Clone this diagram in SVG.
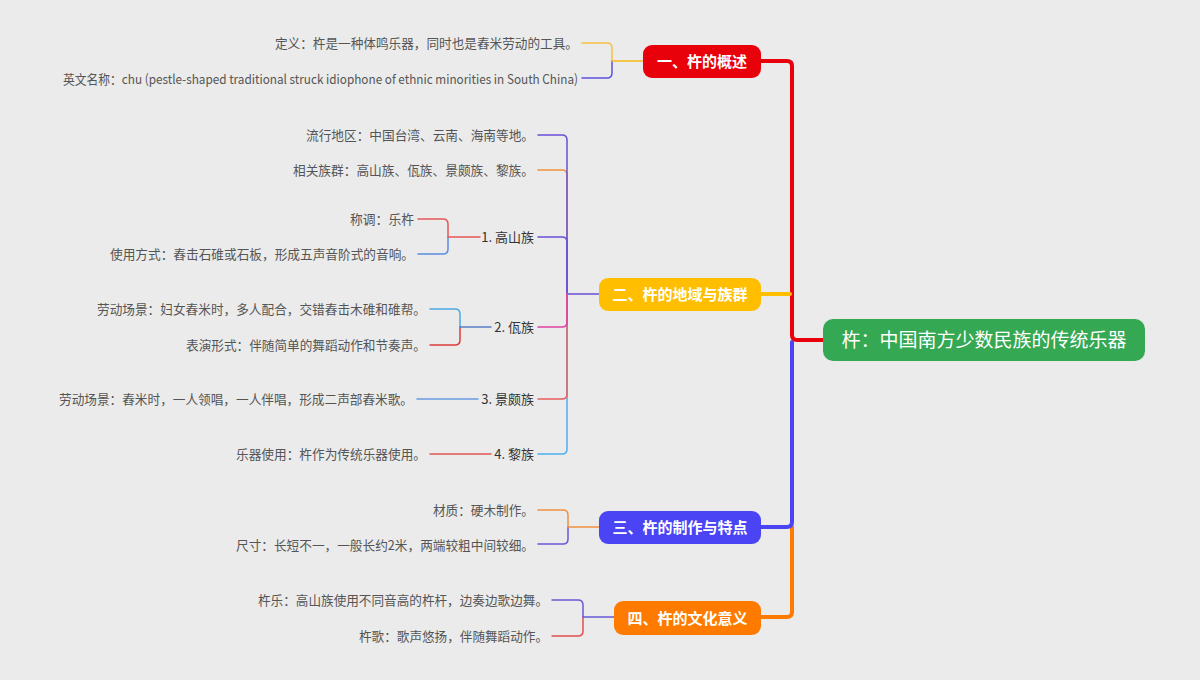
<svg xmlns="http://www.w3.org/2000/svg" width="1200" height="680" viewBox="0 0 1200 680">
<style>
.leaf{font-family:"Noto Sans CJK SC","Noto Sans",sans-serif;font-size:13px;fill:#555;text-anchor:end}
.sub{font-family:"Noto Sans CJK SC","Noto Sans",sans-serif;font-size:13px;fill:#333;text-anchor:end}
.nt{font-family:"Noto Sans CJK SC","Noto Sans",sans-serif;font-size:15px;font-weight:bold;fill:#fff;text-anchor:middle}
.rt{font-family:"Noto Sans CJK SC","Noto Sans",sans-serif;font-size:19px;fill:#fff;text-anchor:middle}
.c{fill:none;stroke-width:1.5;stroke-linecap:round}
.m{fill:none;stroke-width:4;stroke-linecap:round}
</style>
<rect width="1200" height="680" fill="#ebebeb"/>
<g id="connectors">
  <path class="m" stroke="#ff7b00" d="M792,527 V612 Q792,617 787,617 H761"/>
  <path class="m" stroke="#4a44f5" d="M792,342 V522 Q792,527 787,527 H761"/>
  <path class="m" stroke="#e8000b" d="M823,340 H797 Q792,340 792,335 V66 Q792,61 787,61 H761"/>
  <path class="m" stroke="#ffbf00" d="M790,294 H761"/>
  <path class="c" stroke="#f5c242" d="M643,61 H612 V48 Q612,43 607,43 H582"/>
  <path class="c" stroke="#5a52dc" d="M612,61 V73 Q612,78 607,78 H582"/>
  <path class="c" stroke="#f5c242" d="M643,61 H612"/>
  <path class="c" stroke="#f0943c" d="M567,294 V175 Q567,170 562,170 H538"/>
  <path class="c" stroke="#6a4fd8" d="M567,294 V242 Q567,237 562,237 H538"/>
  <path class="c" stroke="#6a4fd8" d="M599,294 H567 V140 Q567,135 562,135 H538"/>
  <path class="c" stroke="#4db0f0" d="M567,294 V449 Q567,454 562,454 H538"/>
  <path class="c" stroke="#e86060" d="M567,294 V394 Q567,399 562,399 H538"/>
  <path class="c" stroke="#e040a0" d="M567,294 V322 Q567,327 562,327 H538"/>
  <path class="c" stroke="#5b8fe0" d="M448,237 V249 Q448,254 443,254 H418"/>
  <path class="c" stroke="#e85858" d="M480,237 H448 V224 Q448,219 443,219 H418"/>
  <path class="c" stroke="#e03c3c" d="M460,327 V340 Q460,345 455,345 H430"/>
  <path class="c" stroke="#4da8e8" d="M460,327 V314 Q460,309 455,309 H430"/>
  <path class="c" stroke="#5a7fc8" d="M491,327 H460"/>
  <path class="c" stroke="#6a9ae0" d="M478,399 H417"/>
  <path class="c" stroke="#e05555" d="M491,454 H430"/>
  <path class="c" stroke="#6a5ad8" d="M568,527 V539 Q568,544 563,544 H538"/>
  <path class="c" stroke="#f09040" d="M599,527 H568 V515 Q568,510 563,510 H538"/>
  <path class="c" stroke="#e05050" d="M583,617 V631 Q583,636 578,636 H552"/>
  <path class="c" stroke="#6a5ad8" d="M614,617 H583 V605 Q583,600 578,600 H552"/>
</g>
<g id="root">
  <rect x="823" y="319" width="322" height="42" rx="10" fill="#35a853"/>
  <text class="rt" x="984" y="347">杵：中国南方少数民族的传统乐器</text>
</g>
<g id="n1">
  <rect x="643" y="45" width="118" height="33" rx="9" fill="#e8000b"/>
  <text class="nt" x="702" y="67">一、杵的概述</text>
</g>
<g id="n1a"><text class="leaf" x="578" y="48" textLength="303" lengthAdjust="spacingAndGlyphs">定义：杵是一种体鸣乐器，同时也是舂米劳动的工具。</text></g>
<g id="n1b"><text class="leaf" x="578" y="84" textLength="515" lengthAdjust="spacingAndGlyphs">英文名称：chu (pestle-shaped traditional struck idiophone of ethnic minorities in South China)</text></g>
<g id="n2">
  <rect x="599" y="278" width="162" height="33" rx="9" fill="#ffbf00"/>
  <text class="nt" x="680" y="300">二、杵的地域与族群</text>
</g>
<g id="n2a"><text class="leaf" x="534" y="139.5" textLength="228" lengthAdjust="spacingAndGlyphs">流行地区：中国台湾、云南、海南等地。</text></g>
<g id="n2b"><text class="leaf" x="534" y="174.5" textLength="241" lengthAdjust="spacingAndGlyphs">相关族群：高山族、佤族、景颇族、黎族。</text></g>
<g id="n2c"><text class="sub" x="534" y="241.5">1. 高山族</text></g>
<g id="n2c1"><text class="leaf" x="414" y="223.5" textLength="64" lengthAdjust="spacingAndGlyphs">称调：乐杵</text></g>
<g id="n2c2"><text class="leaf" x="414" y="258.5" textLength="304" lengthAdjust="spacingAndGlyphs">使用方式：舂击石碓或石板，形成五声音阶式的音响。</text></g>
<g id="n2d"><text class="sub" x="534" y="331.5">2. 佤族</text></g>
<g id="n2d1"><text class="leaf" x="426" y="313.5" textLength="329" lengthAdjust="spacingAndGlyphs">劳动场景：妇女舂米时，多人配合，交错舂击木碓和碓帮。</text></g>
<g id="n2d2"><text class="leaf" x="426" y="349.5" textLength="240" lengthAdjust="spacingAndGlyphs">表演形式：伴随简单的舞蹈动作和节奏声。</text></g>
<g id="n2e"><text class="sub" x="534" y="403.5">3. 景颇族</text></g>
<g id="n2e1"><text class="leaf" x="413" y="403.5" textLength="354" lengthAdjust="spacingAndGlyphs">劳动场景：舂米时，一人领唱，一人伴唱，形成二声部舂米歌。</text></g>
<g id="n2f"><text class="sub" x="534" y="458.5">4. 黎族</text></g>
<g id="n2f1"><text class="leaf" x="426" y="458.5" textLength="190" lengthAdjust="spacingAndGlyphs">乐器使用：杵作为传统乐器使用。</text></g>
<g id="n3">
  <rect x="599" y="511" width="162" height="33" rx="9" fill="#4a44f5"/>
  <text class="nt" x="680" y="533">三、杵的制作与特点</text>
</g>
<g id="n3a"><text class="leaf" x="534" y="514.5" textLength="101" lengthAdjust="spacingAndGlyphs">材质：硬木制作。</text></g>
<g id="n3b"><text class="leaf" x="534" y="549.5" textLength="298" lengthAdjust="spacingAndGlyphs">尺寸：长短不一，一般长约2米，两端较粗中间较细。</text></g>
<g id="n4">
  <rect x="614" y="601" width="147" height="34" rx="9" fill="#ff7b00"/>
  <text class="nt" x="687.5" y="623.5">四、杵的文化意义</text>
</g>
<g id="n4a"><text class="leaf" x="548" y="604.5" textLength="290" lengthAdjust="spacingAndGlyphs">杵乐：高山族使用不同音高的杵杆，边奏边歌边舞。</text></g>
<g id="n4b"><text class="leaf" x="548" y="640.5" textLength="189" lengthAdjust="spacingAndGlyphs">杵歌：歌声悠扬，伴随舞蹈动作。</text></g>
</svg>
